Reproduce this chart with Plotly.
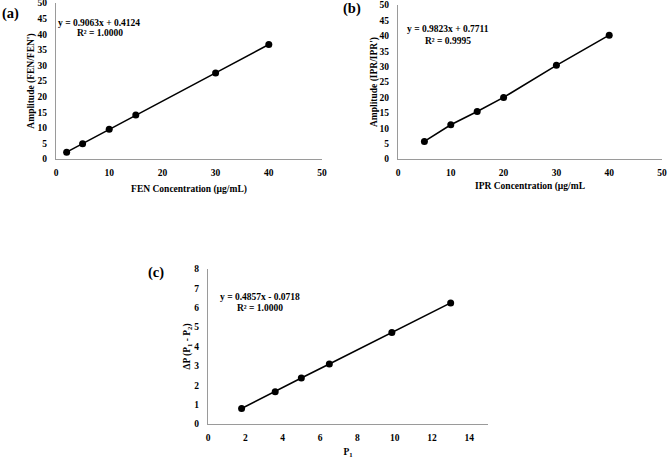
import plotly.graph_objects as go

# Panel (a)
fen_conc = [2, 5, 10, 15, 30, 40]
fen_amp = [2.2, 4.9, 9.5, 14.1, 27.6, 36.7]
# Panel (b)
ipr_conc = [5, 10, 15, 20, 30, 40]
ipr_amp = [5.7, 11.1, 15.4, 20.0, 30.4, 40.2]
# Panel (c)
p1 = [1.8, 3.6, 5.0, 6.5, 9.85, 13.0]
dp = [0.8, 1.66, 2.37, 3.1, 4.72, 6.25]

W, H = 667, 458
FONT = "Liberation Serif"

def fx(px):
    return px / W

def fy(py):
    return 1 - py / H

fig = go.Figure()

line_style = dict(color="black", width=1.6)
marker_style = dict(color="black", size=7, symbol="circle")

fig.add_trace(go.Scatter(x=fen_conc, y=fen_amp, mode="lines+markers",
                         line=line_style, marker=marker_style, xaxis="x", yaxis="y"))
fig.add_trace(go.Scatter(x=ipr_conc, y=ipr_amp, mode="lines+markers",
                         line=line_style, marker=marker_style, xaxis="x2", yaxis="y2"))
fig.add_trace(go.Scatter(x=p1, y=dp, mode="lines+markers",
                         line=line_style, marker=marker_style, xaxis="x3", yaxis="y3"))

tickfont = dict(family=FONT, size=9.5, color="black", weight="bold")
titlefont = dict(family=FONT, size=9.5, color="black", weight="bold")

def xax(domain, anchor, rng, dtick, title, standoff=9):
    return dict(domain=domain, anchor=anchor, range=rng, dtick=dtick, tick0=0,
                automargin=False, ticklabeloverflow="allow",
                showgrid=False, zeroline=False, showline=True, linecolor="#9a9a9a",
                linewidth=1.2, ticks="", tickfont=tickfont, ticklabelstandoff=4,
                title=dict(text=title, font=titlefont, standoff=standoff))

def yax(domain, anchor, rng, dtick, title, standoff=1):
    return dict(domain=domain, anchor=anchor, range=rng, dtick=dtick, tick0=0,
                automargin=False, ticklabeloverflow="allow",
                showgrid=False, zeroline=False, showline=True, linecolor="#9a9a9a",
                linewidth=1.2, ticks="", tickfont=tickfont, ticklabelstandoff=6,
                title=dict(text=title, font=titlefont, standoff=standoff))

fig.update_layout(
    width=W, height=H,
    margin=dict(l=0, r=0, t=0, b=0, autoexpand=False),
    paper_bgcolor="white", plot_bgcolor="white",
    showlegend=False,
    xaxis=xax([fx(56), fx(322)], "y", [0, 50], 10, "FEN Concentration (µg/mL)", standoff=8),
    yaxis=yax([fy(159), fy(3)], "x", [0, 50], 5, "Amplitude (FEN/FEN')"),
    xaxis2=xax([fx(398), fx(662)], "y2", [0, 50], 10, "IPR Concentration (µg/mL", standoff=5),
    yaxis2=yax([fy(159), fy(5)], "x2", [0, 50], 5, "Amplitude (IPR/IPR')", standoff=0),
    xaxis3=xax([fx(208), fx(488)], "y3", [0, 15], 2, "P<sub>1</sub>", standoff=7),
    yaxis3=yax([fy(424), fy(269)], "x3", [0, 8], 1, "ΔP (P<sub>1</sub> - P<sub>2</sub>)", standoff=1),
)

annfont = dict(family=FONT, size=9.5, color="black", weight="bold")
labfont = dict(family=FONT, size=14.5, color="black", weight="bold")

anns = [
    dict(x=fx(99), y=fy(23), text="y = 0.9063x + 0.4124", font=annfont),
    dict(x=fx(100), y=fy(33), text="R² = 1.0000", font=annfont),
    dict(x=fx(448), y=fy(29), text="y = 0.9823x + 0.7711", font=annfont),
    dict(x=fx(448), y=fy(41), text="R² = 0.9995", font=annfont),
    dict(x=fx(260), y=fy(297), text="y = 0.4857x - 0.0718", font=annfont),
    dict(x=fx(260), y=fy(308), text="R² = 1.0000", font=annfont),
    dict(x=fx(10), y=fy(13), text="(a)", font=labfont),
    dict(x=fx(352), y=fy(9), text="(b)", font=labfont),
    dict(x=fx(156), y=fy(272), text="(c)", font=labfont),
]
for a in anns:
    a.update(xref="paper", yref="paper", showarrow=False, xanchor="center", yanchor="middle")
fig.update_layout(annotations=anns)

fig.write_html("out.html", config={"displayModeBar": False},
               post_script="document.body.style.margin='0';document.body.style.overflow='hidden';")
